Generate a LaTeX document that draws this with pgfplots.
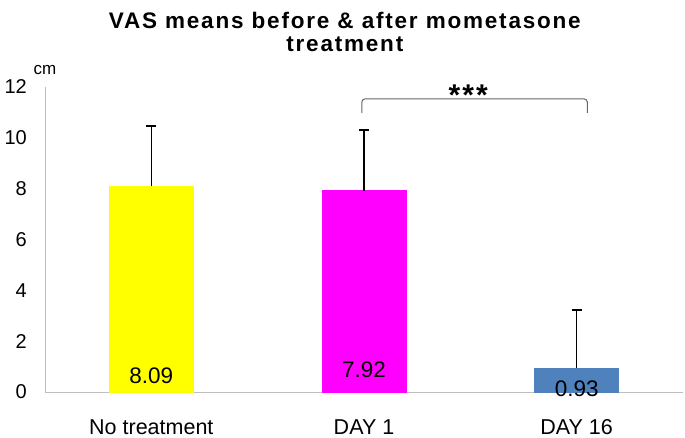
\documentclass[border=0pt]{standalone}
\usepackage{pgfplots}
\pgfplotsset{compat=1.18}
\usepackage{fontspec}
\setmainfont{Liberation Sans}
\newfontfamily\titlefont[LetterSpace=8]{Liberation Sans}
\definecolor{barY}{HTML}{FFFF00}
\definecolor{barM}{HTML}{FF00FF}
\definecolor{barB}{HTML}{4F81BD}
\definecolor{axgray}{HTML}{BFBFBF}
\begin{document}
\begin{tikzpicture}
\begin{axis}[
  scale only axis, width=638pt, height=305pt,
  xmin=-0.5, xmax=2.5, ymin=0, ymax=12,
  axis x line*=bottom, axis y line*=left,
  axis line style={axgray, line width=1pt, -},
  ytick={0,2,...,12}, xtick={0,1,2},
  xticklabels={No treatment, DAY 1, DAY 16},
  major tick length=0pt,
  /pgf/number format/assume math mode=true,
  yticklabel style={font=\fontsize{20}{24}\selectfont, inner sep=0pt, xshift=-18pt},
  xticklabel style={font=\fontsize{21.5}{24}\selectfont, anchor=base, yshift=-42pt},
  ybar, bar width=84pt, bar shift=0pt,
  clip=false,
  error bars/y dir=plus, error bars/y explicit,
  error bars/error mark=|,
  error bars/error bar style={draw=black, line width=1.3pt},
  error bars/error mark options={draw=black, line width=1.3pt, mark size=5pt},
]
\addplot[fill=barY, draw=barY, line width=0pt] coordinates {(0,8.09) +- (0,2.38)};
\addplot[fill=barM, draw=barM, line width=0pt] coordinates {(1,7.92) +- (0,2.39)};
\addplot[fill=barB, draw=barB, line width=0pt] coordinates {(2,0.93) +- (0,2.30)};
% significance bracket
\addplot[sharp plot, gray!80!black, line width=1pt, rounded corners=3pt, forget plot]
  coordinates {(0.99,10.98) (0.99,11.53) (2.05,11.53) (2.05,10.98)};
\node[font=\fontsize{30}{30}\selectfont\bfseries] at (axis cs:1.49,11.68) {*\kern2pt*\kern2pt*};
% value labels
\node[font=\fontsize{22.5}{24}\selectfont] at (axis cs:0,0.62) {8.09};
\node[font=\fontsize{22.5}{24}\selectfont] at (axis cs:1,0.86) {7.92};
\node[font=\fontsize{22.5}{24}\selectfont] at (axis cs:2,0.14) {0.93};
% unit
\node[font=\fontsize{17}{20}\selectfont, anchor=base] at (rel axis cs:0,1) [yshift=12pt] {cm};
% title
\node[font=\fontsize{22.5}{23}\selectfont\titlefont\bfseries, anchor=base, align=center]
  at (rel axis cs:0.47,1) [yshift=35pt] {VAS means before \& after mometasone\\treatment};
\end{axis}
\path (current axis.south west) ++(-45pt,-44pt) rectangle ++(685pt,436pt);
\end{tikzpicture}
\end{document}
